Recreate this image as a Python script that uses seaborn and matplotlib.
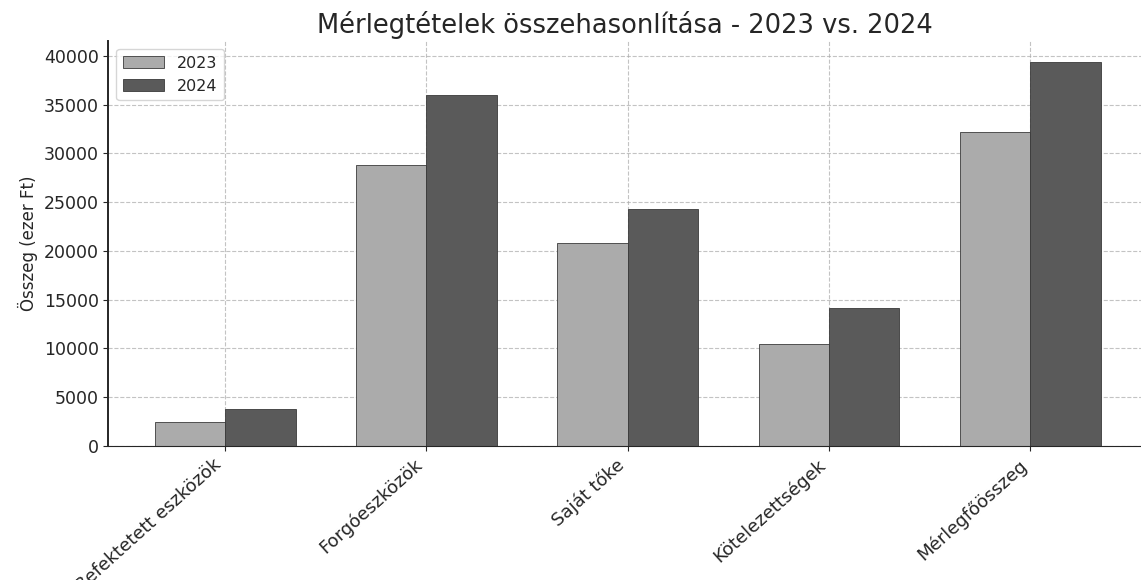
import pandas as pd
import matplotlib
matplotlib.use('Agg')
import matplotlib.pyplot as plt
import seaborn as sns

# Mérlegtételek (ezer Ft), a képről leolvasott értékek
tetelek = ['Befektetett eszközök', 'Forgóeszközök', 'Saját tőke', 'Kötelezettségek', 'Mérlegfőösszeg']
ertek_2023 = [2500, 28800, 20800, 10500, 32200]
ertek_2024 = [3800, 36000, 24300, 14100, 39400]
evek = ['2023', '2024']

df = pd.DataFrame({
    'Tétel': tetelek * 2,
    'Év': [evek[0]] * len(tetelek) + [evek[1]] * len(tetelek),
    'Összeg': ertek_2023 + ertek_2024,
})

sns.set_style('ticks')
plt.rcParams['font.family'] = ['DejaVu Sans']

fig, ax = plt.subplots(figsize=(11.41, 5.8), dpi=100)
sns.barplot(data=df, x='Tétel', y='Összeg', hue='Év', palette=['#ababab', '#5a5a5a'],
            width=0.7, gap=0, edgecolor='#3a3a3a', linewidth=0.6, ax=ax)

ax.set_title('Mérlegtételek összehasonlítása - 2023 vs. 2024', fontsize=18.5, pad=6)
ax.set_xlabel('')
ax.set_ylabel('Összeg (ezer Ft)', fontsize=12)
ax.tick_params(axis='y', labelsize=12.5)
ax.tick_params(axis='x', labelsize=13)
plt.xticks(rotation=42, ha='right')
ax.set_ylim(0, 41500)
ax.set_xlim(-0.58, 4.55)
ax.grid(True, linestyle='--', color='#aaaaaa', linewidth=0.8, alpha=0.7)
ax.set_axisbelow(True)
sns.despine(ax=ax)
ax.spines['left'].set_linewidth(1.4)
ax.legend(loc='upper left', fontsize=11.5, title=None, frameon=True, handlelength=2.6)

plt.subplots_adjust(left=0.095, right=1.0, top=0.929, bottom=0.231)
plt.savefig('out.png', dpi=100)
